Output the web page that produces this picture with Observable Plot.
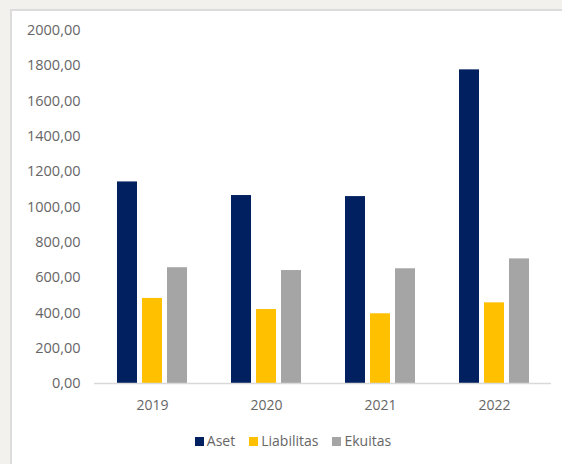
<!DOCTYPE html>
<html>
<head>
<meta charset="utf-8">
<script src="https://cdn.jsdelivr.net/npm/d3@7"></script>
<script src="https://cdn.jsdelivr.net/npm/@observablehq/plot@0.6"></script>
<style>
  html, body { margin: 0; padding: 0; width: 562px; height: 464px; overflow: hidden; background: #f2f1ee; }
  #panel { position: absolute; left: 10px; top: 9px; width: 580px; height: 480px; background: #fff; border: 2px solid #dcdcdc; box-sizing: border-box; }
  #chart { position: absolute; left: 0; top: 0; }
  #legend { position: absolute; left: 24px; top: 431px; width: 538px; text-align: center; font: 14px "Open Sans", sans-serif; color: #666; }
  #legend span.item { display: inline-block; margin: 0 7px; }
  #legend span.sw { display: inline-block; width: 9px; height: 9px; margin-right: 3px; vertical-align: 0px; }
</style>
</head>
<body>
<div id="panel"></div>
<div id="chart"></div>
<div id="legend"></div>
<script>
const years = ["2019", "2020", "2021", "2022"];
const series = ["Aset", "Liabilitas", "Ekuitas"];
const colors = ["#002060", "#FFC000", "#A5A5A5"];
const aset = [1142, 1065, 1059, 1777];
const liabilitas = [482, 419, 395, 457];
const ekuitas = [656, 640, 650, 706];
const yTicks = [0, 200, 400, 600, 800, 1000, 1200, 1400, 1600, 1800, 2000];

const valuesBySeries = [aset, liabilitas, ekuitas];
const fmt = v => v.toFixed(2).replace(".", ",");

// bar offsets within each year group (one bar step = bar width + gap)
const step = 25;
const barMarks = series.map((s, j) => Plot.barY(
  years.map((yr, i) => ({year: yr, series: s, value: valuesBySeries[j][i]})),
  {x: "year", y: "value", fill: colors[j], dx: (j - 1) * step}
));

const chart = Plot.plot({
  width: 562,
  height: 420,
  marginLeft: 94,
  marginRight: 11,
  marginTop: 30,
  marginBottom: 37,
  style: {fontFamily: "'Open Sans', sans-serif", fontSize: "14px", color: "#666", background: "transparent"},
  x: {domain: years, paddingInner: 0.825, paddingOuter: 0.4125, label: null},
  y: {domain: [0, 2000], label: null},
  axis: null,
  marks: [
    Plot.axisY({ticks: yTicks, tickFormat: fmt, tickSize: 0, tickPadding: 14, label: null, fontSize: 14.5, fill: "#666"}),
    Plot.axisX({tickSize: 0, tickPadding: 17, label: null, fontSize: 14, fill: "#666"}),
    ...barMarks,
    Plot.ruleY([0], {stroke: "#d9d9d9", strokeWidth: 1.5})
  ]
});
document.getElementById("chart").appendChild(chart);

const legend = document.getElementById("legend");
series.forEach((s, i) => {
  const item = document.createElement("span");
  item.className = "item";
  const sw = document.createElement("span");
  sw.className = "sw";
  sw.style.background = colors[i];
  item.appendChild(sw);
  item.appendChild(document.createTextNode(s));
  legend.appendChild(item);
});
</script>
</body>
</html>
